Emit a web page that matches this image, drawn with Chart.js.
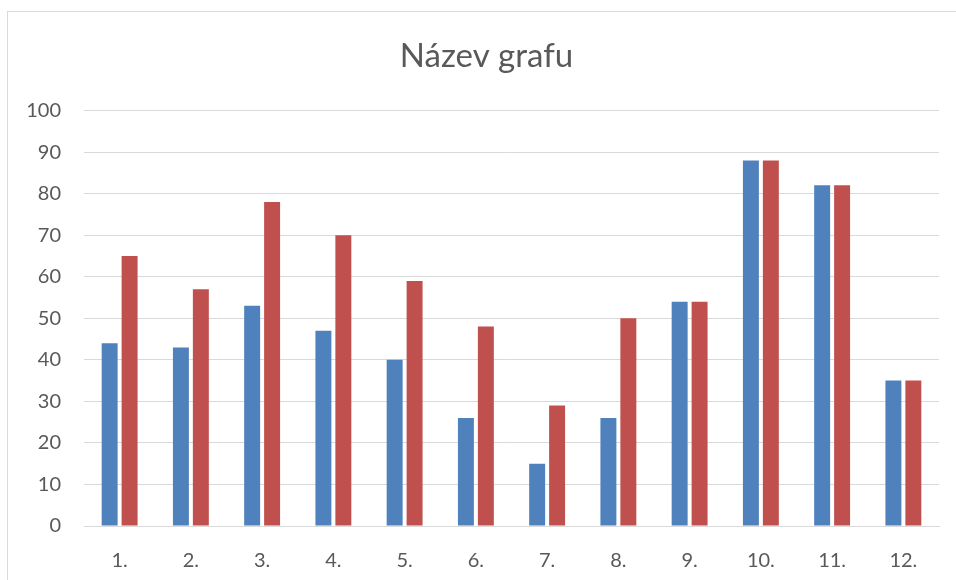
<!DOCTYPE html>
<html>
<head>
<meta charset="utf-8">
<script src="https://cdn.jsdelivr.net/npm/chart.js@4.4.1/dist/chart.umd.min.js"></script>
<style>
    body { margin: 0; background: #fff; overflow: hidden; width: 956px; height: 580px; position: relative; }
    #box { position: absolute; left: 7px; top: 11px; width: 959px; height: 600px; border: 1px solid #d9d9d9; box-sizing: border-box; background: #fff; }
    #wrap { position: absolute; left: 0; top: 0; width: 957px; height: 598px; }
</style>
</head>
<body>
<div id="box"><div id="wrap"><canvas id="graf"></canvas></div></div>
<script>
// Données du graphique
const categories = ['1.', '2.', '3.', '4.', '5.', '6.', '7.', '8.', '9.', '10.', '11.', '12.'];
const serie1 = [44, 43, 53, 47, 40, 26, 15, 26, 54, 88, 82, 35];
const serie2 = [65, 57, 78, 70, 59, 48, 29, 50, 54, 88, 82, 35];
const yMin = 0, yMax = 100, yStep = 10;

const txtColor = '#595959';
const gridColor = '#d9d9d9';

const ctx = document.getElementById('graf').getContext('2d');
new Chart(ctx, {
    type: 'bar',
    data: {
        labels: categories,
        datasets: [
            { label: 'Řada 1', data: serie1, backgroundColor: '#4f81bd', barPercentage: 0.8, categoryPercentage: 0.56 },
            { label: 'Řada 2', data: serie2, backgroundColor: '#c0504d', barPercentage: 0.8, categoryPercentage: 0.56 }
        ]
    },
    options: {
        responsive: true,
        maintainAspectRatio: false,
        animation: false,
        layout: { padding: 0 },
        plugins: {
            legend: { display: false },
            tooltip: { enabled: false },
            title: {
                display: true,
                text: 'Název grafu',
                color: txtColor,
                font: { family: 'Lato', size: 33, weight: 'normal', lineHeight: 1.2 },
                padding: { top: 25, bottom: 34 }
            }
        },
        scales: {
            x: {
                grid: { display: false },
                border: { display: true, color: gridColor, width: 1 },
                ticks: { color: txtColor, font: { family: 'Lato', size: 20 }, padding: 15, maxRotation: 0 },
                afterFit: (s) => { s.height = 84; }
            },
            y: {
                min: yMin,
                max: yMax,
                grid: { color: gridColor, lineWidth: 1, drawTicks: false },
                border: { display: false },
                ticks: { stepSize: yStep, color: txtColor, font: { family: 'Lato', size: 20 }, padding: 23 },
                afterFit: (s) => { s.width = 76; }
            },
            // axe vide à droite : marge pour garder le titre centré
            yDroite: {
                position: 'right',
                min: yMin,
                max: yMax,
                grid: { display: false },
                border: { display: false },
                ticks: { display: false },
                afterFit: (s) => { s.width = 26; }
            }
        }
    }
});
</script>
</body>
</html>
